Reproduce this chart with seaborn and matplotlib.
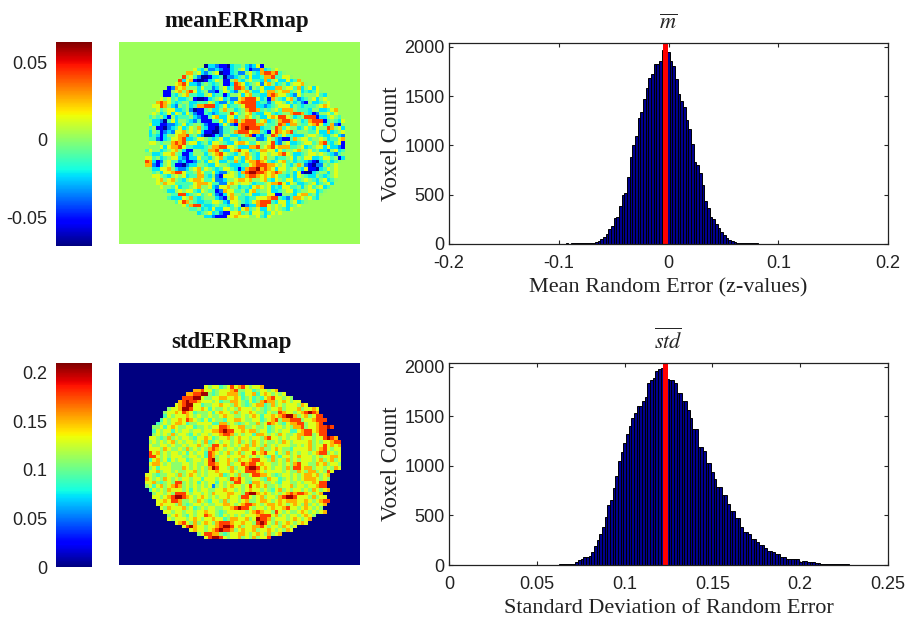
import numpy as np
import matplotlib
matplotlib.use('Agg')
import matplotlib.pyplot as plt
import seaborn as sns

sns.set_style('white')
plt.rcParams['font.family'] = ['Liberation Sans', 'DejaVu Sans']
plt.rcParams['mathtext.fontset'] = 'stix'

N_COLS = 65
N_ROWS = 55

# levels, 0 (dark blue) to 9 (dark red), '.' is outside the brain
MEAN_ROWS = [
    '', '', '', '', '', '',
    '.......................0332110344532361',
    '....................64352232113456312273456',
    '..................775632456011342256437887845',
    '.................856420013340223453633477844665',
    '................836710013465115743564437356336347',
    '...............678633245434511387634562675345356675',
    '.............12767555364423563488742546333775664735636',
    '............1156757863452214653256753364775677456343465',
    '............11435674433563441355636744337876643264555643',
    '...........656453345100134563422678886341754367423456356',
    '..........78764345533444653225367888834424665353421533456',
    '.........668753254534778883463445688833234566635434445676',
    '.........56456633452011453357553457887454564777544435533467',
    '.........65346365364211432344586456743366434557887431255646',
    '........4545315344453211467336635576453367688653458881335654',
    '........53320463554324111446367857888567345788765347888145436',
    '........63311223463455421113642178888775445873775446786347215',
    '........45110234634657431102445478988834458746553464365587563',
    '........35412326675656311002445788867743168767845554463373456',
    '........34313556778453200132553345781324587464433356654335632',
    '........44213466783346654346335534455223653211475664556534467',
    '........66545578785663453665433677644655683256334566457843561',
    '........55563677864433345778866533377856786777445634566363321',
    '.......465534567531155447785336786634577663645567556453325634',
    '.......553346675411355535678654356754366566786533456656543245',
    '.......664534566321336443567433653764367553445635466334664513',
    '.......87312564423112453656335474367787643467453443210345345',
    '.......7721356411023355433655433344678887765643575210225456',
    '........533667532235674654346643137889787636645643611034656',
    '.........45366788644576446322565378998876787545361003455356',
    '.........66543565634477435216665347887676764435365433543456',
    '..........6756754356776446223556776755674365466345654356345',
    '..........657664444467776442267656653445677863653345634563',
    '...........6554634456755632667553443676563436644535645634',
    '............53356566436544127664453674556334566345566345',
    '.............544883456456421367554563344661155436774535',
    '.............43336574345553215764434466678843247765643',
    '...............468754334466532665434678884366356345',
    '.................64788433454434650233788656563456',
    '...................4453436336645367456336565436',
    '.....................34563421166745366534656',
    '.......................332111667666556436',
]

STD_ROWS = [
    '', '', '', '', '', '',
    '.......................6566456867865667',
    '....................77866456667855664566567',
    '..................778899545667775466746765656',
    '.................888996556677667645645467866565',
    '................789887666564557765464578775676566',
    '...............678996645566766576545677457565666576',
    '.............56679986676465565657666565456675666756676',
    '............566768764555646766575667655465587665678987',
    '............4656667656556556766556567646676789975675688',
    '...........465667687654646554667765566456785778885667888',
    '..........456567764556666447756545655756876546778856678',
    '.........5564676556645565668876677556556456656577856678898',
    '.........46566465665665667789886676775664565664467886788',
    '.........56565756654656656678875656647765657655677885688',
    '........665457565665466764566756766566578665656675665668987',
    '........5656567565665657456566567565765655657656666756566788',
    '........6556656556566756588676565675765756566655656756686767',
    '........6665765565756565787656656776657556765546666756786566',
    '........8675656656465664876567567566867866465756566567885656',
    '........8865656665566564875665666765656547546656766656566776',
    '........4675646566456656895667657667886657565756566656756756',
    '........6776565556656556887667566878867665565657866557675665',
    '........5646665557656565798665756689986765665758867756656576',
    '........66756656556675656676667656888765666656557657756586',
    '.......66545566575676565666745657556887765456656567767567',
    '.......76565765656656646665665878655665476645656567776565',
    '.......6675456588565646566465658865477655654665565667688',
    '.......5646756787565656562565676656867675565667566566788',
    '........4656576665646566556676656567665654675656656576567',
    '.........5665658886566565766677665899767656567878876567',
    '.........66567899876567656566766588656756657899866657566',
    '..........66768875565765466575665675567765676777667656788',
    '..........6766657545665655667765678876567767656765756567',
    '...........65766675645656655667898865665676678665676565',
    '............66566566566766545666665678766586565567656567',
    '.............5676546566876546565656667888675656656765',
    '.............656665676566766457766756988756665676567',
    '...............678657567657888766766589865756765676',
    '.................6897665667899867566778656657656',
    '...................6766567898875676675667656576',
    '.....................56887754566776567657567',
    '.......................689986566756575668',
]

# colour position of each level in the map's range
LEVELS = [0.02, 0.12, 0.25, 0.35, 0.43, 0.52, 0.62, 0.72, 0.84, 0.97]

MEAN_START = -0.0938
MEAN_WIDTH = 0.00243
MEAN_COUNTS = [
    8, 4, 8, 8, 8, 8, 10, 10, 10, 10, 13, 17, 33, 50, 67, 100, 150, 185, 260, 270,
    385, 495, 520, 680, 880, 1000, 1100, 1280, 1340, 1470, 1580, 1680, 1730, 1825,
    1830, 1856, 1973, 1990, 1950, 1860, 1805, 1670, 1520, 1450, 1390, 1260, 1170,
    1010, 835, 800, 720, 600, 435, 370, 270, 250, 200, 165, 120, 90, 65, 45, 30,
    20, 15, 12, 10, 10, 8, 8, 6, 6, 5, 5, 4,
]
MEAN_LINE = -0.0033
MEAN_OUTSIDE = 0.003

STD_START = 0.0629
STD_WIDTH = 0.001515
STD_COUNTS = [
    10, 10, 10, 10, 10, 10, 35, 50, 64, 84, 84, 90, 130, 190, 250, 310, 385, 480,
    610, 660, 775, 900, 1050, 1145, 1235, 1320, 1400, 1480, 1540, 1606, 1606, 1657,
    1700, 1840, 1870, 1890, 1960, 1975, 1985, 1880, 1880, 1870, 1870, 1835, 1740,
    1740, 1657, 1657, 1565, 1480, 1370, 1370, 1195, 1195, 1150, 1027, 1027, 940,
    865, 790, 790, 707, 707, 620, 545, 545, 470, 470, 387, 337, 337, 310, 266, 266,
    232, 202, 202, 175, 141, 141, 135, 108, 108, 84, 84, 57, 57, 57, 57, 57, 34, 44,
    44, 30, 30, 30, 24, 24, 12, 10, 10, 10, 8, 8, 8, 7, 7, 6, 6, 5, 5, 5, 5, 4, 4, 4,
    3, 3, 3, 3, 5, 3, 3, 3, 3, 3, 3, 5, 5, 3, 3, 3, 3, 3, 3, 5, 3,
]
STD_LINE = 0.123
STD_OUTSIDE = 0.0

MEAN_RANGE = (-0.0688, 0.0636)
STD_RANGE = (0.0, 0.21)

W, H = 905, 621


def box(x0, y0, x1, y1):
    # pixel box of the reference to figure fractions
    return [x0 / W, 1 - y1 / H, (x1 - x0) / W, (y1 - y0) / H]


def rows_to_grid(rows, vrange, outside):
    lo, hi = vrange
    grid = np.full((N_ROWS, N_COLS), float(outside))
    for i, row in enumerate(rows):
        for j, c in enumerate(row[:N_COLS]):
            if c != '.':
                grid[i, j] = lo + LEVELS[int(c)] * (hi - lo)
    return grid


def draw_map(fig, rows, vrange, outside, title, title_x, ticks, labels, map_box, cbar_box):
    ax = fig.add_axes(box(*map_box))
    cax = fig.add_axes(box(*cbar_box))
    sns.heatmap(rows_to_grid(rows, vrange, outside), ax=ax, cbar_ax=cax, cmap='jet',
                vmin=vrange[0], vmax=vrange[1], xticklabels=False, yticklabels=False)
    ax.set_title(title, family='Liberation Serif', fontsize=16.5, fontweight='bold', pad=11,
                 x=title_x, color='#111111')
    cax.yaxis.set_ticks_position('left')
    cax.set_yticks(ticks)
    cax.set_yticklabels(labels, fontsize=13, color='#222222')
    cax.tick_params(length=0, pad=6)


def draw_hist(fig, start, width, counts, line, xlim, xticks, xlabels, xlabel, title, pos):
    ax = fig.add_axes(box(*pos))
    n = len(counts)
    centers = start + width * (np.arange(n) + 0.5)
    edges = start + width * np.arange(n + 1)
    sns.histplot(x=centers, weights=counts, bins=list(edges), ax=ax, color='#00008f',
                 edgecolor='black', linewidth=0.7, alpha=1)
    ax.axvline(line, color='#ff0000', linewidth=3.6)
    ax.set_xlim(*xlim)
    ax.set_ylim(0, 2040)
    ax.set_xticks(xticks)
    ax.set_xticklabels(xlabels)
    ax.set_yticks([0, 500, 1000, 1500, 2000])
    ax.tick_params(direction='in', length=3, width=0.8, top=True, right=True, bottom=True,
                   left=True, labelsize=13, labelcolor='#222222')
    ax.tick_params(axis='x', pad=8)
    ax.tick_params(axis='y', pad=3)
    ax.set_xlabel(xlabel, family='Liberation Serif', fontsize=16, color='#222222', labelpad=4.5)
    ax.set_ylabel('Voxel Count', family='Liberation Serif', fontsize=16.5, color='#222222', labelpad=2)
    ax.set_title(title, fontsize=16, pad=10)
    for s in ax.spines.values():
        s.set_visible(True)
        s.set_color('#222222')
        s.set_linewidth(0.9)


def main():
    fig = plt.figure(figsize=(W / 100, H / 100), dpi=100, facecolor='white')

    draw_map(fig, MEAN_ROWS, MEAN_RANGE, MEAN_OUTSIDE, 'meanERRmap', 0.49, [-0.05, 0, 0.05],
             ['-0.05', '0', '0.05'], (119, 42, 360, 244), (56, 42, 92, 246))
    draw_map(fig, STD_ROWS, STD_RANGE, STD_OUTSIDE, 'stdERRmap', 0.465, [0, 0.05, 0.1, 0.15, 0.2],
             ['0', '0.05', '0.1', '0.15', '0.2'], (119, 363, 360, 565), (56, 363, 92, 567))

    draw_hist(fig, MEAN_START, MEAN_WIDTH, MEAN_COUNTS, MEAN_LINE, (-0.2, 0.2),
              [-0.2, -0.1, 0, 0.1, 0.2], ['-0.2', '-0.1', '0', '0.1', '0.2'],
              'Mean Random Error (z-values)', r'$\overline{m}$', (449, 43, 888, 244))
    draw_hist(fig, STD_START, STD_WIDTH, STD_COUNTS, STD_LINE, (0, 0.25),
              [0, 0.05, 0.1, 0.15, 0.2, 0.25], ['0', '0.05', '0.1', '0.15', '0.2', '0.25'],
              'Standard Deviation of Random Error', r'$\overline{std}$', (449, 363, 888, 565))

    fig.savefig('out.png', dpi=100)


if __name__ == '__main__':
    main()
